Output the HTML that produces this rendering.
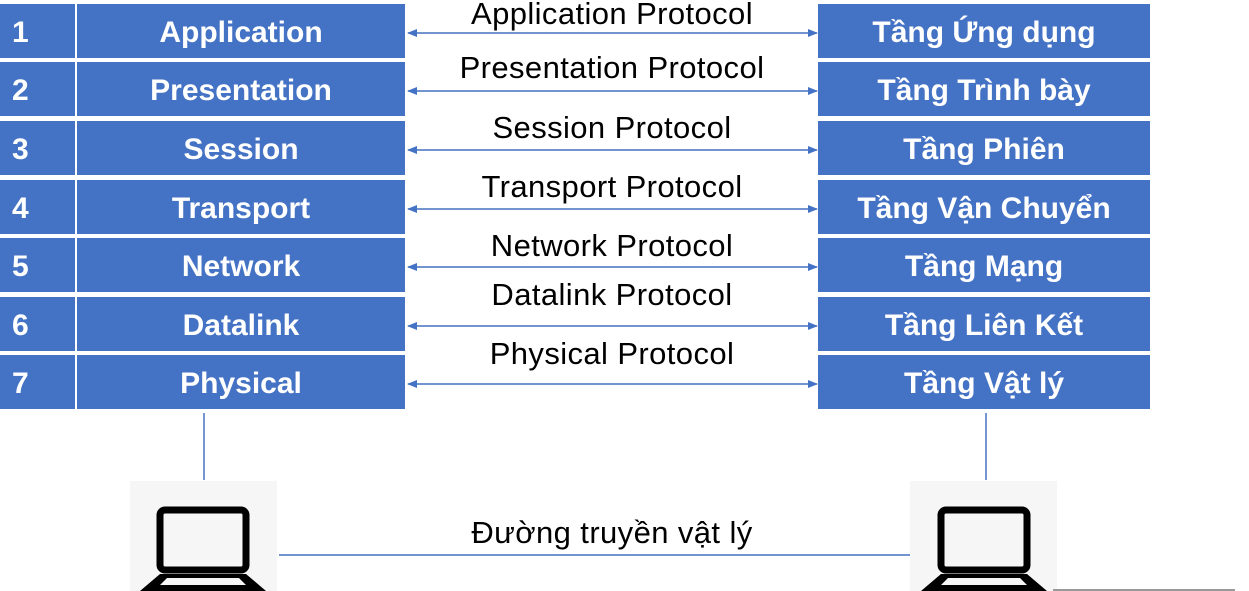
<!DOCTYPE html>
<html><head><meta charset="utf-8"><style>
*{margin:0;padding:0;box-sizing:border-box}
body{width:1249px;height:591px;background:#fff;position:relative;overflow:hidden;font-family:"Liberation Sans","DejaVu Sans",sans-serif}
.b{position:absolute;background:#4472C4;color:#fff;font-weight:bold;font-size:30px;display:flex;align-items:center;justify-content:center;height:54px;padding-top:4px}
.n{justify-content:flex-start;padding-left:12px}
.l{position:absolute;font-size:31px;letter-spacing:0.4px;color:#000;width:460px;text-align:center;left:382px;line-height:30px;white-space:nowrap}
</style></head><body>
<div class="b n" style="left:0;top:4px;width:75px">1</div><div class="b" style="left:77px;top:4px;width:328px">Application</div><div class="b" style="left:818px;top:4px;width:332px">Tầng Ứng dụng</div>
<div class="b n" style="left:0;top:62px;width:75px">2</div><div class="b" style="left:77px;top:62px;width:328px">Presentation</div><div class="b" style="left:818px;top:62px;width:332px">Tầng Trình bày</div>
<div class="b n" style="left:0;top:121px;width:75px">3</div><div class="b" style="left:77px;top:121px;width:328px">Session</div><div class="b" style="left:818px;top:121px;width:332px">Tầng Phiên</div>
<div class="b n" style="left:0;top:180px;width:75px">4</div><div class="b" style="left:77px;top:180px;width:328px">Transport</div><div class="b" style="left:818px;top:180px;width:332px">Tầng Vận Chuyển</div>
<div class="b n" style="left:0;top:238px;width:75px">5</div><div class="b" style="left:77px;top:238px;width:328px">Network</div><div class="b" style="left:818px;top:238px;width:332px">Tầng Mạng</div>
<div class="b n" style="left:0;top:297px;width:75px">6</div><div class="b" style="left:77px;top:297px;width:328px">Datalink</div><div class="b" style="left:818px;top:297px;width:332px">Tầng Liên Kết</div>
<div class="b n" style="left:0;top:355px;width:75px">7</div><div class="b" style="left:77px;top:355px;width:328px">Physical</div><div class="b" style="left:818px;top:355px;width:332px">Tầng Vật lý</div>
<div class="l" style="top:-1px">Application Protocol</div>
<div class="l" style="top:53px">Presentation Protocol</div>
<div class="l" style="top:113px">Session Protocol</div>
<div class="l" style="top:172px">Transport Protocol</div>
<div class="l" style="top:231px">Network Protocol</div>
<div class="l" style="top:280px">Datalink Protocol</div>
<div class="l" style="top:339px">Physical Protocol</div>
<div class="l" style="top:518px">Đường truyền vật lý</div>
<svg width="1249" height="591" style="position:absolute;left:0;top:0">
<defs><marker id="a" markerWidth="10" markerHeight="8" refX="9" refY="4" orient="auto-start-reverse" markerUnits="userSpaceOnUse"><path d="M0,0L10,4L0,8z" fill="#4472C4"/></marker></defs>
<g stroke="#4472C4" stroke-width="1.5" fill="none">
<line x1="408" y1="33" x2="817" y2="33" marker-start="url(#a)" marker-end="url(#a)"/>
<line x1="408" y1="91" x2="817" y2="91" marker-start="url(#a)" marker-end="url(#a)"/>
<line x1="408" y1="150" x2="817" y2="150" marker-start="url(#a)" marker-end="url(#a)"/>
<line x1="408" y1="209" x2="817" y2="209" marker-start="url(#a)" marker-end="url(#a)"/>
<line x1="408" y1="267" x2="817" y2="267" marker-start="url(#a)" marker-end="url(#a)"/>
<line x1="408" y1="326" x2="817" y2="326" marker-start="url(#a)" marker-end="url(#a)"/>
<line x1="408" y1="384" x2="817" y2="384" marker-start="url(#a)" marker-end="url(#a)"/>
<line x1="204" y1="413" x2="204" y2="480"/>
<line x1="986" y1="413" x2="986" y2="480"/>
<line x1="279" y1="555" x2="910" y2="555"/>
</g>
<rect x="130" y="481" width="147" height="110" fill="#f6f6f6"/>
<rect x="910" y="481" width="147" height="110" fill="#f6f6f6"/>
<g fill="none" stroke="#000" stroke-width="7">
<rect x="160" y="510" width="86" height="60" rx="5"/>
<rect x="941" y="510" width="86" height="60" rx="5"/>
</g>
<path d="M160,574H246L266,591H140Z M167,578L160,585H246L239,578Z" fill="#000" fill-rule="evenodd"/>
<path d="M941,574H1027L1047,591H921Z M948,578L941,585H1027L1020,578Z" fill="#000" fill-rule="evenodd"/>
<rect x="1053" y="589" width="182" height="2" fill="#999"/>
</svg>
</body></html>
